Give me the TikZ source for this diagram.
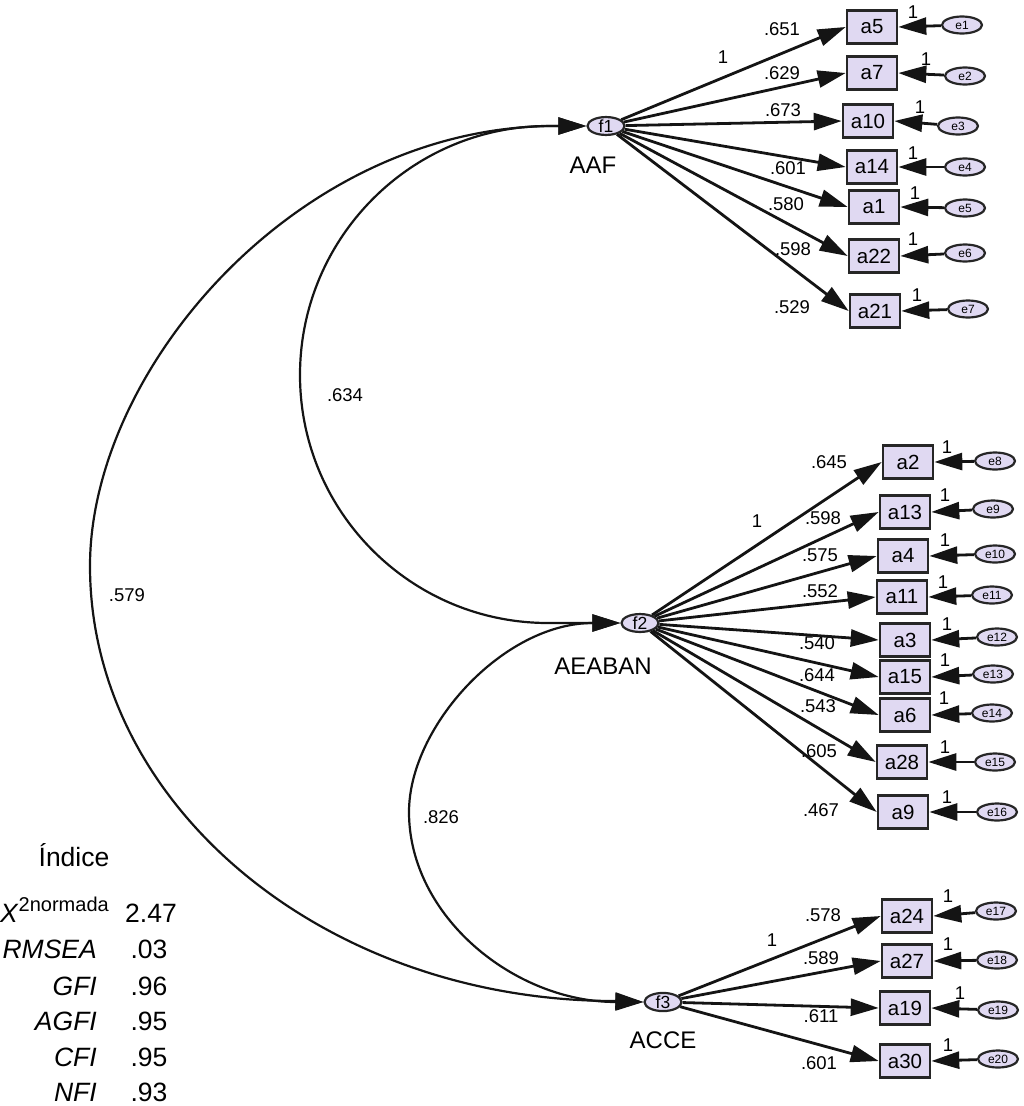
\documentclass[tikz,border=0pt]{standalone}
\usepackage{fontspec}
\setmainfont{Liberation Sans}
\usetikzlibrary{shapes.geometric,arrows.meta}
\definecolor{lav}{RGB}{224,217,242}
\definecolor{ink}{RGB}{20,20,20}
\tikzset{
  obs/.style={draw=black!85, line width=2.6pt, fill=lav, minimum width=50pt, minimum height=33pt, inner sep=0pt, font=\fontsize{20.5}{20.5}\selectfont},
  lat/.style={ellipse, draw=black!85, line width=2.2pt, fill=lav, minimum width=37pt, minimum height=17pt, inner sep=0pt, font=\fontsize{17.5}{17.5}\selectfont},
  err/.style={ellipse, draw=black!85, line width=2.2pt, fill=lav, minimum width=40pt, minimum height=17pt, inner sep=0pt, font=\fontsize{12}{12}\selectfont},
  num/.style={inner sep=0pt, font=\fontsize{18.5}{18.5}\selectfont},
  big/.style={inner sep=0pt, font=\fontsize{24}{24}\selectfont},
  leg/.style={inner sep=0pt, font=\fontsize{26.5}{26.5}\selectfont},
  load/.style={line width=2.8pt, draw=ink, -{Triangle[length=28pt,width=17pt]}},
  cov/.style={line width=2.2pt, draw=ink, {Triangle[length=28pt,width=17pt]}-{Triangle[length=28pt,width=17pt]}},
}
\begin{document}
\begin{tikzpicture}[x=1pt,y=-1pt]
\useasboundingbox (0,0) rectangle (1024,1106);
% factors
\node[lat] (f1) at (606,126) {f1};
\node[lat] (f2) at (640,623) {f2};
\node[lat] (f3) at (663,1002) {f3};
\node[big] (n1) at (593,165) {AAF};
\node[big] (n2) at (603,666) {AEABAN};
\node[big] (n3) at (663,1040) {ACCE};
% indicators
\foreach \n/\x/\y/\en/\ex/\ey/\ox/\oy/\lx/\ly/\val/\fac in {
a5/872/27/e1/962/25/913/12/782/29/.651/f1,
a7/872/73/e2/965/76/926/59/782/73/.629/f1,
a10/868/121/e3/958/126/920/107/783/110/.673/f1,
a14/872/167/e4/965/167/913/153/788/168/.601/f1,
a1/874/207/e5/965/208/915/193/786/204/.580/f1,
a22/874/256/e6/965/253/913/239/793/249/.598/f1,
a21/875/311/e7/968/309/917/295/792/307/.529/f1,
a2/908/462/e8/995/461/947/447/829/462/.645/f2,
a13/905/512/e9/993/509/945/495/823/518/.598/f2,
a4/903/556/e10/995/554/945/540/820/555/.575/f2,
a11/902/597/e11/992/595/943/582/820/591/.552/f2,
a3/905/640/e12/997/637/947/624/817/643/.540/f2,
a15/905/677/e13/993/674/945/660/817/675/.644/f2,
a6/905/715/e14/992/713/944/698/818/706/.543/f2,
a28/902/762/e15/995/762/945/747/819/751/.605/f2,
a9/903/812/e16/997/812/947/797/821/810/.467/f2,
a24/907/916/e17/996/911/948/896/823/915/.578/f3,
a27/907/961/e18/997/960/948/944/821/958/.589/f3,
a19/905/1008/e19/998/1010/960/993/821/1016/.611/f3,
a30/905/1061/e20/998/1059/948/1045/819/1063/.601/f3}{
  \node[obs] (\n) at (\x,\y) {\n};
  \node[err] (\en) at (\ex,\ey) {\en};
  \node[num] (o\n) at (\ox,\oy) {1};
  \node[num] (v\n) at (\lx,\ly) {\val};
  \draw[load] (\fac) -- (\n.west);
  \draw[load] (\en) -- (\n.east);
}
\node[num] (w1) at (723,57) {1};
\node[num] (w2) at (757,521) {1};
\node[num] (w3) at (772,940) {1};
% covariances
\draw[cov] (f1.west) -- (555,126) .. controls (298,126) and (90,369) .. (90,566)
  .. controls (90,806) and (325,1001) .. (615,1001) -- (f3.west);
\draw[cov] (f1.west) -- (548,126) .. controls (411,126) and (300,238) .. (300,375)
  .. controls (300,512) and (411,623) .. (548,623) -- (f2.west);
\draw[cov] (f2.west) .. controls (503,623) and (409,727) .. (409,812)
  .. controls (409,916) and (514,1002) .. (f3.west);
\node[num] (c12) at (345,395) {.634};
\node[num] (c13) at (127,595) {.579};
\node[num] (c23) at (441,817) {.826};
% legend
\node[leg] (idx) at (74,855) {Índice};
\node[leg, anchor=base west] (chi) at (0,922) {\textit{X}\raisebox{11pt}{\fontsize{20}{20}\selectfont 2normada}};
\node[leg, anchor=base] (v1) at (151,922) {2.47};
\node[leg, anchor=base east] (k2) at (97,958) {\textit{RMSEA}};
\node[leg, anchor=base] (v2) at (149,958) {.03};
\node[leg, anchor=base east] (k3) at (97,995) {\textit{GFI}};
\node[leg, anchor=base] (v3) at (149,995) {.96};
\node[leg, anchor=base east] (k4) at (97,1030) {\textit{AGFI}};
\node[leg, anchor=base] (v4) at (149,1030) {.95};
\node[leg, anchor=base east] (k5) at (97,1066) {\textit{CFI}};
\node[leg, anchor=base] (v5) at (149,1066) {.95};
\node[leg, anchor=base east] (k6) at (97,1101) {\textit{NFI}};
\node[leg, anchor=base] (v6) at (149,1101) {.93};
\end{tikzpicture}
\end{document}
